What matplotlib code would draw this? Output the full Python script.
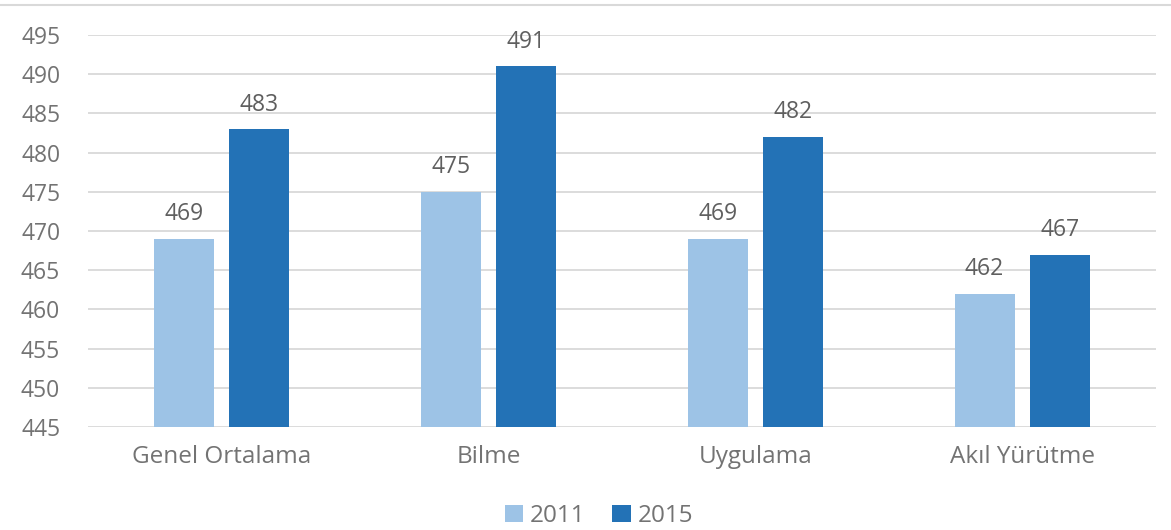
import matplotlib
matplotlib.use("Agg")
import matplotlib.pyplot as plt
from matplotlib.lines import Line2D
import numpy as np

categories = ["Genel Ortalama", "Bilme", "Uygulama", "Akıl Yürütme"]
series_names = ["2011", "2015"]
values_2011 = [469, 475, 469, 462]
values_2015 = [483, 491, 482, 467]
yticks = [445, 450, 455, 460, 465, 470, 475, 480, 485, 490, 495]

colors = ["#9DC3E6", "#2372B6"]
text_color = "#737373"

plt.rcParams['font.family'] = ['Open Sans', 'DejaVu Sans']

fig = plt.figure(figsize=(11.71, 5.30), dpi=100)
ax = fig.add_axes([88/1171, 1-427/530, (1156-88)/1171, (427-35)/530])

x = np.arange(len(categories))
w = 0.225
off = 0.142
for vals, name, c, d in [(values_2011, series_names[0], colors[0], -off),
                         (values_2015, series_names[1], colors[1], off)]:
    ax.bar(x + d, [v - 445 for v in vals], width=w, bottom=445, color=c, label=name, zorder=3)
    for xi, v in zip(x + d, vals):
        ax.annotate(str(v), (xi, v), xytext=(0, 9), textcoords="offset points",
                    ha="center", va="bottom", fontsize=16.5, color="#5f5f5f")

ax.set_xlim(-0.5, len(categories) - 0.5)
ax.set_ylim(445, 495)
ax.set_yticks(yticks)
ax.set_yticklabels([str(t) for t in yticks], fontsize=16.5, color=text_color)
ax.set_xticks(x)
ax.set_xticklabels(categories, fontsize=17.5, color=text_color)
ax.tick_params(axis="y", length=0, pad=20)
ax.tick_params(axis="x", length=0, pad=13)
ax.grid(axis="y", color="#D9D9D9", linewidth=1.3, zorder=0)
for s in ax.spines.values():
    s.set_visible(False)

fig.add_artist(Line2D([0, 1], [1-5/530, 1-5/530], transform=fig.transFigure, color="#D9D9D9", linewidth=1.5))

leg = fig.legend(loc="center", bbox_to_anchor=(599/1171, 1-516/530), ncol=2, frameon=False,
                 fontsize=17.5, handlelength=0.75, handleheight=0.75, columnspacing=1.1, handletextpad=0.3)
for t in leg.get_texts():
    t.set_color(text_color)

fig.savefig("out.png", dpi=100)
